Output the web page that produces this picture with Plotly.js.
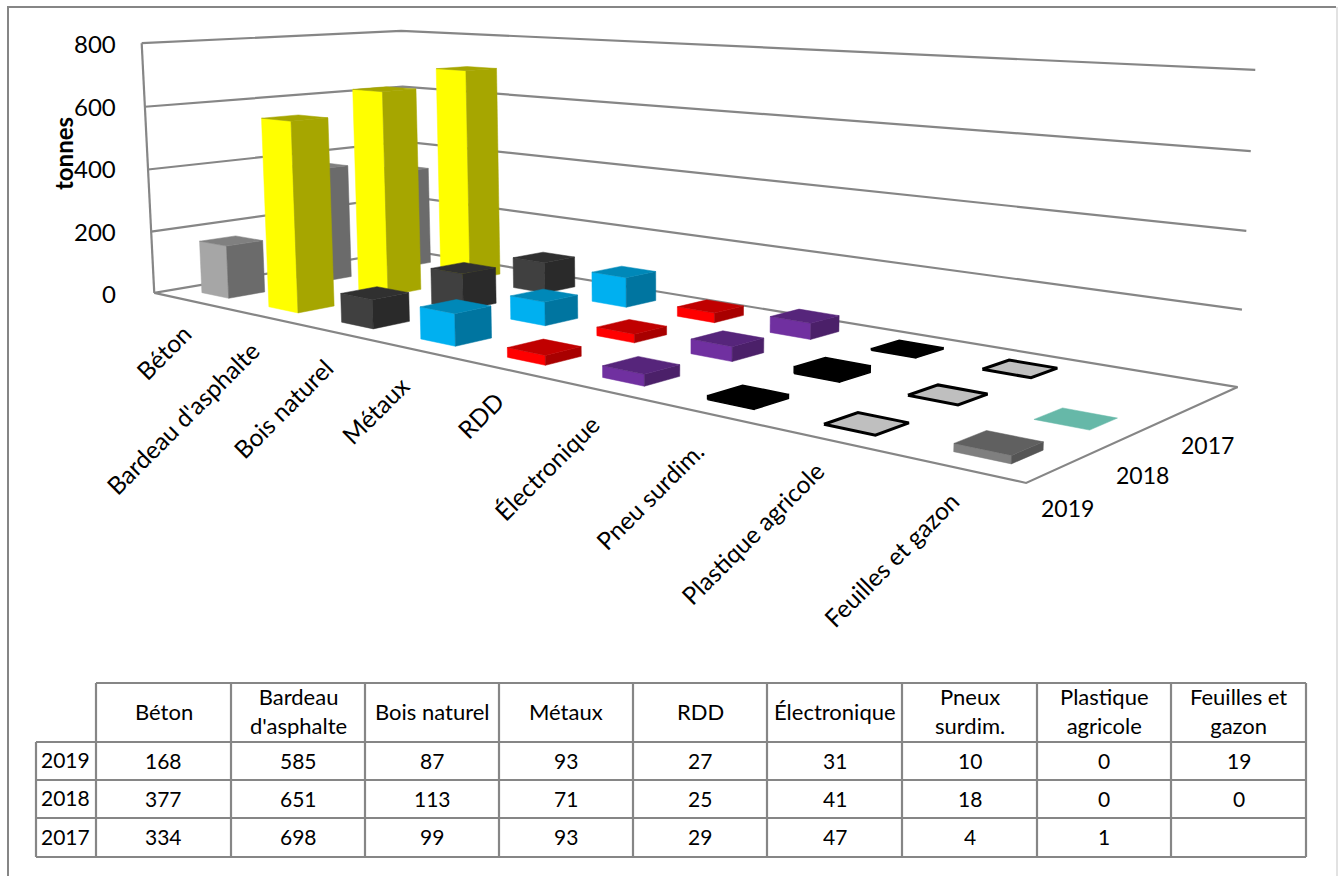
<!DOCTYPE html>
<html><head><meta charset="utf-8">
<script src="https://cdn.plot.ly/plotly-3.0.1.min.js"></script>
<style>html,body{margin:0;padding:0;background:#fff}#c{width:1338px;height:876px}</style>
</head><body><div id="c"></div>
<script>
const categories = ["Béton","Bardeau d'asphalte","Bois naturel","Métaux","RDD","Électronique","Pneu surdim.","Plastique agricole","Feuilles et gazon"];
const tableHeads = ["Béton","Bardeau<br>d'asphalte","Bois naturel","Métaux","RDD","Électronique","Pneux<br>surdim.","Plastique<br>agricole","Feuilles et<br>gazon"];
const years = ["2019","2018","2017"];
const values2019 = [168,585,87,93,27,31,10,0,19];
const values2018 = [377,651,113,71,25,41,18,0,0];
const values2017 = [334,698,99,93,29,47,4,1,null];
const yTicks = [0,200,400,600,800];

// colour of each category: front, side, top
const faceColors = [
 ["#a6a6a6","#6b6b6b","#808080"],["#ffff00","#a6a600","#a6a600"],["#404040","#2a2a2a","#303030"],
 ["#00b0f0","#0075a0","#0088b8"],["#ff0000","#a80000","#c00000"],["#7030a0","#4b2069","#56257b"],
 ["#000000","#000000","#000000"],["#bfbfbf","#000000","#bfbfbf"],["#7f7f7f","#555555","#606060"]];
const zeroLeafColor = "#66b8a8";

// Camera calibration: where the chart box corners lie on the page
const calib = [
 [0,0,0,155,293],[9,0,0,1026,483],[9,3,0,1238,387],[0,3,0,406,250],
 [0,0,800,141,43],[0,3,800,402,31],[9,3,800,1255,70]];
function solveCamera(){
  const A=[],b=[];
  for(const [u,v,z,x,y] of calib){
    const U=u/9,V=v/3,Z=z/800,X=x/1000,Y=y/1000;
    A.push([U,V,Z,1,0,0,0,0,-X*U,-X*V,-X*Z]);b.push(X);
    A.push([0,0,0,0,U,V,Z,1,-Y*U,-Y*V,-Y*Z]);b.push(Y);
  }
  const n=11,M=[];
  for(let i=0;i<n;i++){M.push([]);for(let j=0;j<=n;j++){let s=0;
    for(let k=0;k<A.length;k++)s+=A[k][i]*(j<n?A[k][j]:b[k]);M[i].push(s);}}
  for(let i=0;i<n;i++){let p=i;for(let r=i;r<n;r++)if(Math.abs(M[r][i])>Math.abs(M[p][i]))p=r;
    [M[i],M[p]]=[M[p],M[i]];
    for(let r=0;r<n;r++)if(r!==i){const f=M[r][i]/M[i][i];for(let c=i;c<=n;c++)M[r][c]-=f*M[i][c];}}
  return M.map((r,i)=>r[n]/r[i]);
}
const cam=solveCamera();
function proj(u,v,z){
  const U=u/9,V=v/3,Z=z/800,w=cam[8]*U+cam[9]*V+cam[10]*Z+1;
  return [1000*(cam[0]*U+cam[1]*V+cam[2]*Z+cam[3])/w,1000*(cam[4]*U+cam[5]*V+cam[6]*Z+cam[7])/w];
}
const traces=[];
function line(pts,color,width){
  traces.push({type:'scatter',mode:'lines',x:pts.map(p=>p[0]),y:pts.map(p=>p[1]),
    line:{color:color,width:width},hoverinfo:'skip',showlegend:false});
}
function poly(pts,fill,lc,lw){
  const c=pts.concat([pts[0]]);
  traces.push({type:'scatter',mode:'lines',x:c.map(p=>p[0]),y:c.map(p=>p[1]),fill:'toself',fillcolor:fill,
    line:{color:lc||fill,width:lw||0.5},hoverinfo:'skip',showlegend:false});
}
const gridColor="#868686";
for(const t of yTicks){
  line([proj(0,0,t),proj(0,3,t),proj(9,3,t)],gridColor,2.2);
}
line([proj(0,0,0),proj(0,0,800)],gridColor,2.2);
line([proj(0,0,0),proj(9,0,0),proj(9,3,0)],gridColor,2.2);

const halfU=0.205,halfV=0.195,centerU=0.53,centerV=0.48;
const rows=[values2019,values2018,values2017];
for(let j=2;j>=0;j--){
  for(let i=0;i<9;i++){
    const h=rows[j][i]; if(h===null) continue;
    let col=faceColors[i];
    if(i===8&&h===0) col=[zeroLeafColor,zeroLeafColor,zeroLeafColor];
    const outline=i===7?"#000000":(i===6?"#000000":null), lw=i===7?3:(i===6?1.5:0.5);
    const u0=i+centerU-halfU,u1=i+centerU+halfU,v0=j+centerV-halfV,v1=j+centerV+halfV;
    if(h>1){
      poly([proj(u0,v0,0),proj(u1,v0,0),proj(u1,v0,h),proj(u0,v0,h)],col[0],outline,lw);
      poly([proj(u1,v0,0),proj(u1,v1,0),proj(u1,v1,h),proj(u1,v0,h)],col[1],outline,lw);
    }
    poly([proj(u0,v0,h),proj(u1,v0,h),proj(u1,v1,h),proj(u0,v1,h)],col[2],outline,lw);
  }
}

// page frame
line([[8,876],[8,7],[1336,7]],gridColor,2);
line([[1337,7],[1337,876]],"#d9d9d9",1.5);

// data table
const tableX=[36,96,231,365,499,633,767,902,1037,1171,1306];
const tableY=[683,742,780,818,857];
const tc="#868686";
line([[tableX[1],tableY[0]],[tableX[10],tableY[0]]],tc,2.2);
for(let r=1;r<4+1;r++) line([[tableX[0],tableY[r]],[tableX[10],tableY[r]]],tc,2.2);
line([[tableX[0],tableY[1]],[tableX[0],tableY[4]]],tc,2.2);
for(let c=1;c<=10;c++) line([[tableX[c],tableY[0]],[tableX[c],tableY[4]]],tc,2.2);

const FONT="Lato, Carlito, sans-serif";
const ann=[];
function label(x,y,text,size,opts){
  ann.push(Object.assign({xref:'x',yref:'y',x:x,y:y,text:text,showarrow:false,xanchor:'center',yanchor:'middle',
    font:{family:FONT,size:size,color:'#000'}},opts||{}));
}
for(let c=0;c<9;c++){
  const cx=(tableX[c+1]+tableX[c+2])/2;
  label(cx,(tableY[0]+tableY[1])/2-1.5,tableHeads[c],22);
  for(let r=0;r<3;r++){
    const v=rows[r][c];
    if(v!==null) label(cx,(tableY[r+1]+tableY[r+2])/2-1,String(v),21);
  }
}
for(let r=0;r<3;r++) label((tableX[0]+tableX[1])/2-1,(tableY[r+1]+tableY[r+2])/2-1.5,years[r],21);

const tickY=[293,231,168,106,43];
yTicks.forEach((t,i)=>label(118,tickY[i],String(t),24,{xanchor:'right'}));
label(63,154,"<b>tonnes</b>",24,{textangle:-90});
const catCenters=[[163,352],[182,418],[283,408],[375,410],[480,415],[546,468],[649,496],[752,533],[891,559]];
categories.forEach((c,i)=>label(catCenters[i][0],catCenters[i][1],c,24.5,{textangle:-45}));
const yearPos=[[1067,508],[1142,475],[1207,445]];
years.forEach((y,i)=>label(yearPos[i][0],yearPos[i][1],y,23));

Plotly.newPlot('c',traces,{
  width:1338,height:876,margin:{l:0,r:0,t:0,b:0},paper_bgcolor:'#fff',plot_bgcolor:'#fff',showlegend:false,
  xaxis:{range:[0,1338],visible:false,fixedrange:true},
  yaxis:{range:[876,0],visible:false,fixedrange:true},
  annotations:ann
},{displayModeBar:false,staticPlot:true});
</script></body></html>
